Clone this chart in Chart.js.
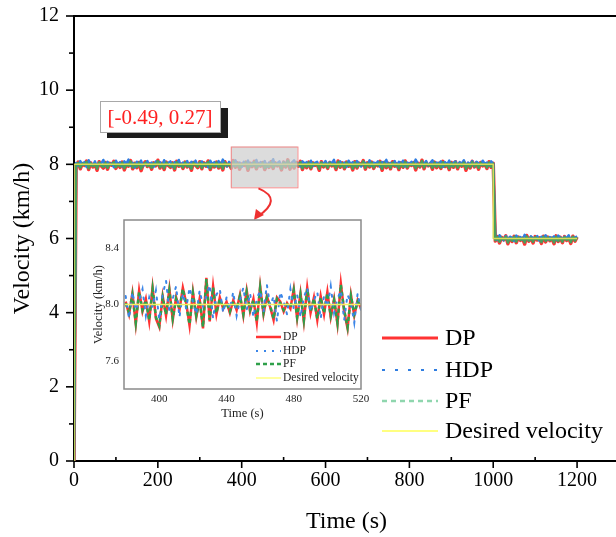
<!DOCTYPE html>
<html><head><meta charset="utf-8">
<script src="https://cdn.jsdelivr.net/npm/chart.js@4/dist/chart.umd.min.js"></script>
<style>
html,body{margin:0;padding:0;background:#fff;overflow:hidden}
#wrap{position:relative;width:616px;height:537px;overflow:hidden;background:#fff}
#main{position:absolute;left:0;top:0}
#inset{position:absolute;left:80px;top:200px}
</style></head><body>
<div id="wrap"><canvas id="main" width="630" height="537"></canvas><canvas id="inset" width="290" height="225"></canvas></div>
<script>
// ---------- main chart data (sampled every 5 s, 0..1200 s) ----------
const mainStep = 5;
const dpMain = [0,
7.95,8.06,7.88,8.02,7.97,8.09,7.86,8.04,7.93,8.01,7.84,8.07,7.96,7.90,8.05,7.87,8.03,7.98,8.08,7.89,
8.02,7.92,8.06,7.85,8.00,7.95,8.10,7.88,8.03,7.91,8.05,7.83,7.99,8.07,7.94,8.02,7.87,8.04,7.96,8.11,
7.90,8.03,7.86,8.06,7.97,7.92,8.04,7.85,8.08,7.95,8.01,7.89,8.06,7.93,8.02,7.84,8.05,7.98,7.91,8.07,
7.88,8.04,7.95,8.09,7.86,8.01,7.93,8.06,7.90,8.03,7.85,8.07,7.96,8.02,7.89,8.10,7.92,8.04,7.87,8.01,
7.97,8.06,7.84,8.03,7.94,8.08,7.88,8.02,7.95,8.05,7.86,8.00,7.92,8.07,7.89,8.04,7.96,8.01,7.85,8.06,
7.93,8.12,7.87,8.03,7.90,8.05,7.95,8.08,7.86,8.02,7.91,8.06,7.88,8.04,7.97,8.01,7.84,8.07,7.93,8.03,
7.89,8.05,7.96,8.02,7.86,8.09,7.92,8.04,7.88,8.06,7.95,8.01,7.85,8.07,7.90,8.03,7.97,8.10,7.87,8.04,
7.93,8.06,7.89,8.02,7.96,8.08,7.84,8.05,7.91,8.03,7.88,8.07,7.95,8.01,7.86,8.04,7.92,8.09,7.90,8.02,
7.97,8.05,7.85,8.03,7.93,8.11,7.88,8.04,7.96,8.02,7.87,8.06,7.91,8.03,7.89,8.08,7.94,8.01,7.86,8.05,
7.92,8.07,7.88,8.03,7.95,8.06,7.84,8.02,7.90,8.08,7.93,8.04,7.87,8.05,7.96,8.01,7.89,8.07,7.92,8.03,
5.93,6.05,5.88,6.03,5.96,6.07,5.86,6.02,5.92,6.06,5.89,6.04,5.95,6.01,5.85,6.08,5.93,6.03,5.88,6.05,
5.96,6.02,5.87,6.06,5.91,6.04,5.94,6.01,5.86,6.07,5.92,6.03,5.89,6.05,5.95,6.02,5.87,6.06,5.93,6.04];
const hdpMain = [0,
8.04,7.96,8.09,7.99,8.06,7.93,8.11,8.01,7.97,8.08,7.94,8.05,8.02,8.12,7.95,8.07,7.98,8.03,7.92,8.10,
7.99,8.06,7.94,8.08,8.02,8.13,7.96,8.04,7.91,8.07,8.00,8.10,7.95,8.03,8.09,7.97,8.05,7.93,8.08,8.01,
8.06,7.95,8.11,7.99,8.04,8.08,7.93,8.06,8.01,8.12,7.96,8.05,7.98,8.09,7.94,8.07,8.02,8.10,7.97,8.04,
8.08,7.96,8.03,7.92,8.10,8.00,8.06,7.95,8.09,7.98,8.13,8.02,7.94,8.07,8.01,7.97,8.11,7.99,8.05,7.93,
8.07,8.01,8.10,7.95,8.04,7.98,8.12,7.96,8.06,8.00,8.09,7.93,8.05,8.02,8.14,7.97,8.03,8.08,7.94,8.06,
8.00,8.09,7.96,8.05,8.11,7.99,8.03,7.94,8.08,8.02,8.06,7.97,8.10,7.95,8.04,8.07,7.92,8.05,8.01,8.09,
7.98,8.06,8.03,8.12,7.95,8.04,8.08,7.97,8.05,7.93,8.10,8.01,8.06,7.96,8.09,8.02,7.94,8.07,8.03,7.99,
8.11,7.96,8.05,8.01,8.08,7.93,8.06,8.03,8.12,7.97,8.04,7.99,8.09,7.95,8.07,8.02,8.10,7.94,8.05,8.00,
8.07,7.98,8.13,8.03,7.95,8.06,8.01,8.09,7.96,8.04,8.11,7.97,8.05,8.02,8.08,7.93,8.06,8.00,8.10,7.96,
8.04,8.08,7.97,8.06,8.02,8.11,7.95,8.05,8.00,8.09,7.94,8.07,8.03,7.98,8.10,8.01,8.05,7.96,8.08,8.02,
6.04,5.96,6.09,6.01,5.95,6.07,5.98,6.05,6.02,5.93,6.08,6.00,6.04,5.97,6.10,6.03,5.95,6.06,6.01,5.99,
6.07,5.94,6.05,6.02,6.09,5.97,6.04,6.00,6.06,5.96,6.08,6.03,5.98,6.05,6.01,6.09,5.95,6.04,6.02,6.06];
const pfMain = [0,
7.97,8.04,7.91,8.02,7.98,8.07,7.89,8.03,7.95,8.01,7.88,8.05,7.97,7.93,8.04,7.90,8.02,7.99,8.06,7.92,
8.01,7.94,8.05,7.89,8.00,7.96,8.08,7.91,8.02,7.93,8.04,7.88,7.99,8.05,7.95,8.01,7.90,8.03,7.97,8.09,
7.92,8.02,7.89,8.05,7.98,7.94,8.03,7.88,8.06,7.96,8.00,7.91,8.05,7.94,8.01,7.88,8.04,7.98,7.93,8.05,
7.90,8.03,7.96,8.07,7.89,8.01,7.94,8.05,7.92,8.02,7.88,8.05,7.97,8.01,7.91,8.08,7.94,8.03,7.90,8.01,
7.98,8.05,7.88,8.02,7.95,8.06,7.90,8.01,7.96,8.04,7.89,8.00,7.93,8.05,7.91,8.03,7.97,8.01,7.88,8.05,
7.94,8.10,7.90,8.02,7.92,8.04,7.96,8.06,7.89,8.01,7.93,8.05,7.90,8.03,7.98,8.01,7.88,8.05,7.94,8.02,
7.91,8.04,7.97,8.01,7.89,8.07,7.93,8.03,7.90,8.05,7.96,8.01,7.88,8.05,7.92,8.02,7.98,8.08,7.90,8.03,
7.94,8.05,7.91,8.01,7.97,8.06,7.88,8.04,7.93,8.02,7.90,8.05,7.96,8.01,7.89,8.03,7.93,8.07,7.92,8.01,
7.98,8.04,7.89,8.02,7.94,8.09,7.91,8.03,7.97,8.01,7.90,8.05,7.93,8.02,7.91,8.06,7.95,8.01,7.89,8.04,
7.93,8.05,7.91,8.02,7.96,8.05,7.88,8.01,7.92,8.06,7.94,8.03,7.90,8.04,7.97,8.01,7.91,8.05,7.93,8.02,
5.95,6.04,5.91,6.02,5.97,6.05,5.89,6.01,5.94,6.05,5.91,6.03,5.96,6.01,5.89,6.06,5.94,6.02,5.91,6.04,
5.97,6.01,5.90,6.05,5.93,6.03,5.95,6.01,5.89,6.05,5.93,6.02,5.91,6.04,5.96,6.01,5.90,6.05,5.94,6.03];
const desiredT = [0, 0, 1000, 1000, 1200];
const desiredV = [0, 8, 8, 6, 6];

// ---------- inset data (380..520 s, every 2 s) ----------
const insetStart = 380, insetStep = 2;
const dpInset = [8.02,7.93,8.08,7.86,8.10,7.95,8.04,7.88,8.12,7.90,
7.84,8.06,7.92,8.11,7.89,8.05,7.96,8.12,8.01,7.85,
8.09,7.91,8.04,7.83,8.19,7.88,8.13,7.93,8.05,7.97,
8.02,7.94,8.03,7.96,8.07,7.92,8.10,7.95,8.04,7.87,
8.13,7.93,8.06,7.98,7.89,8.05,8.02,7.95,8.01,7.97,
8.11,7.90,8.08,7.88,8.12,7.94,8.05,7.89,8.06,7.93,
8.09,7.91,8.04,7.86,8.15,7.95,7.83,8.07,7.92,8.03,7.97];
const pfInset = [8.01,7.94,8.07,7.87,8.09,7.96,8.03,7.89,8.11,7.91,
7.85,8.05,7.93,8.10,7.90,8.04,7.97,8.11,8.00,7.86,
8.08,7.92,8.03,7.84,8.18,7.89,8.12,7.94,8.04,7.98,
8.01,7.95,8.02,7.97,8.06,7.93,8.09,7.96,8.03,7.88,
8.12,7.94,8.05,7.99,7.90,8.04,8.01,7.96,8.00,7.98,
8.10,7.91,8.07,7.89,8.11,7.95,8.04,7.90,8.05,7.94,
8.08,7.92,8.03,7.87,8.14,7.96,7.84,8.06,7.93,8.02,7.98];
const hdpInset = [8.06,7.90,8.09,7.96,8.03,8.11,7.92,8.05,7.98,8.10,
7.89,8.07,8.17,7.95,8.04,8.13,7.91,8.08,7.97,8.12,
8.02,7.93,8.10,7.99,8.06,8.14,7.90,8.07,8.11,7.94,
8.05,7.97,8.09,7.92,8.03,8.12,7.96,8.08,7.91,8.04,
8.10,7.95,8.14,7.99,8.06,7.88,8.09,8.02,7.93,8.11,
7.97,8.07,7.91,8.05,8.12,7.95,8.03,8.09,7.90,8.06,
7.98,8.13,7.94,8.04,8.10,7.89,8.07,8.01,7.87,8.08,7.96];
const desiredInsetT = [379, 520];
const desiredInsetV = [8, 8];

// ---------- ticks, labels ----------
const xTicks = [0, 200, 400, 600, 800, 1000, 1200];
const xMinor = [100, 300, 500, 700, 900, 1100, 1300];
const yTicks = [0, 2, 4, 6, 8, 10, 12];
const yMinor = [1, 3, 5, 7, 9, 11];
const insetXTicks = [400, 440, 480, 520];
const insetYTicks = [7.6, 8.0, 8.4];
const seriesNames = ['DP', 'HDP', 'PF', 'Desired velocity'];
const zoomBoxT = [374, 533];
const zoomBoxV = [7.38, 8.48];
const annotText = '[-0.49, 0.27]';

const SERIF = "'Liberation Serif','Times New Roman',serif";
Chart.defaults.font.family = SERIF;
Chart.defaults.color = '#000';

function seq(start, step, n){ const a=[]; for(let i=0;i<n;i++) a.push(start+i*step); return a; }
function pairs(xs, ys){ return ys.map((v,i)=>({x:xs[i], y:v})); }
const tMain = seq(0, mainStep, dpMain.length);
const tInset = seq(insetStart, insetStep, dpInset.length);

function line(ctx,x0,y0,x1,y1){ ctx.beginPath(); ctx.moveTo(x0,y0); ctx.lineTo(x1,y1); ctx.stroke(); }

const mainDecor = {
  id:'mainDecor',
  afterDatasetsDraw(chart){
    const {ctx, scales:{x,y}} = chart;
    ctx.save();
    const x0=x.getPixelForValue(zoomBoxT[0]), x1=x.getPixelForValue(zoomBoxT[1]);
    const y0=y.getPixelForValue(zoomBoxV[1]), y1=y.getPixelForValue(zoomBoxV[0]);
    ctx.fillStyle='rgba(205,205,205,0.7)';
    ctx.fillRect(x0,y0,x1-x0,y1-y0);
    ctx.strokeStyle='rgba(245,120,120,0.85)'; ctx.lineWidth=1;
    ctx.strokeRect(x0+0.5,y0+0.5,x1-x0,y1-y0);
    // arrow
    const sx=x.getPixelForValue(440), sy=y1+1, ex=254, ey=220, cx=284, cy=199;
    ctx.strokeStyle='#ee3030'; ctx.fillStyle='#ee3030'; ctx.lineWidth=2;
    ctx.beginPath(); ctx.moveTo(sx,sy); ctx.quadraticCurveTo(cx,cy,ex+3,ey-3); ctx.stroke();
    const ang=Math.atan2(ey-cy+6, ex-cx+10);
    ctx.beginPath(); ctx.moveTo(ex,ey);
    ctx.lineTo(ex-10*Math.cos(ang)+5*Math.sin(ang), ey-10*Math.sin(ang)-5*Math.cos(ang));
    ctx.lineTo(ex-10*Math.cos(ang)-5*Math.sin(ang), ey-10*Math.sin(ang)+5*Math.cos(ang));
    ctx.closePath(); ctx.fill();
    ctx.restore();
  },
  afterDraw(chart){
    const {ctx, chartArea:a, scales:{x,y}} = chart;
    ctx.save();
    ctx.strokeStyle='#000'; ctx.lineWidth=2;
    line(ctx, a.left-1, a.top, a.right+1, a.top);
    line(ctx, a.right, a.top, a.right, a.bottom);
    ctx.lineWidth=1.6;
    xTicks.forEach(v=>{const p=x.getPixelForValue(v); line(ctx,p,a.bottom,p,a.bottom+7);});
    xMinor.forEach(v=>{const p=x.getPixelForValue(v); line(ctx,p,a.bottom,p,a.bottom-4);});
    yTicks.forEach(v=>{const p=y.getPixelForValue(v); line(ctx,a.left,p,a.left-8,p);});
    yMinor.forEach(v=>{const p=y.getPixelForValue(v); line(ctx,a.left,p,a.left-5,p);});
    // annotation box
    ctx.fillStyle='#1c1c1c'; ctx.fillRect(107,108,121,30);
    ctx.fillStyle='#fff'; ctx.fillRect(100,101,120,31);
    ctx.strokeStyle='#a8a8a8'; ctx.lineWidth=1; ctx.strokeRect(100.5,101.5,120,31);
    ctx.fillStyle='#ff2020'; ctx.font='21px '+SERIF; ctx.textAlign='center'; ctx.textBaseline='middle';
    ctx.fillText(annotText, 160, 118);
    // legend
    const items=[
      {c:'#ff3333', w:3, d:[]},
      {c:'#2f7de1', w:2, d:[3,10]},
      {c:'#8fd6ae', w:2.5, d:[5,4]},
      {c:'#ffff80', w:2, d:[]}];
    const ly=[338,370,401,431];
    ctx.textAlign='left'; ctx.font='24px '+SERIF; ctx.fillStyle='#000';
    items.forEach((it,i)=>{
      ctx.strokeStyle=it.c; ctx.lineWidth=it.w; ctx.setLineDash(it.d);
      line(ctx,382,ly[i],438,ly[i]);
      ctx.setLineDash([]);
      ctx.fillText(seriesNames[i],445,ly[i]+1);
    });
    ctx.restore();
  }
};

new Chart(document.getElementById('main'), {
  type:'line',
  data:{datasets:[
    {label:seriesNames[3], data:pairs(desiredT,desiredV), borderColor:'#d8dc58', borderWidth:1.5, order:0},
    {label:seriesNames[2], data:pairs(tMain,pfMain), borderColor:'#4a9e5c', borderWidth:2.4, order:1},
    {label:seriesNames[1], data:pairs(tMain,hdpMain), borderColor:'#2f7de1', borderWidth:2.4, order:2},
    {label:seriesNames[0], data:pairs(tMain,dpMain), borderColor:'#ff3333', borderWidth:3.5, order:3}
  ]},
  options:{
    responsive:false, animation:false, devicePixelRatio:1,
    layout:{padding:{top:16,right:11,left:0,bottom:0}},
    elements:{point:{radius:0}, line:{tension:0, borderJoinStyle:'round'}},
    plugins:{legend:{display:false}, tooltip:{enabled:false}},
    scales:{
      x:{type:'linear', min:0, max:1300,
        afterBuildTicks:s=>{s.ticks=xTicks.map(v=>({value:v}));},
        afterFit:s=>{s.height=76; s.paddingLeft=0; s.paddingRight=0;},
        grid:{display:false, drawTicks:false}, border:{color:'#000', width:2},
        ticks:{font:{size:20}, color:'#000', padding:8, maxRotation:0, autoSkip:false, callback:v=>String(v)},
        title:{display:true, text:'Time (s)', font:{size:24}, color:'#000', padding:{top:0,bottom:1}}},
      y:{type:'linear', min:0, max:12,
        afterBuildTicks:s=>{s.ticks=yTicks.map(v=>({value:v}));},
        afterFit:s=>{s.width=74; s.paddingTop=0; s.paddingBottom=0;},
        grid:{display:false, drawTicks:false}, border:{color:'#000', width:2},
        ticks:{font:{size:20}, color:'#000', padding:15, callback:v=>String(v)},
        title:{display:true, text:'Velocity (km/h)', font:{size:24}, color:'#000', padding:{top:8,bottom:0}}}
    }
  },
  plugins:[mainDecor]
});

const insetDecor = {
  id:'insetDecor',
  afterDraw(chart){
    const {ctx, chartArea:a} = chart;
    ctx.save();
    ctx.strokeStyle='#8a8a8a'; ctx.lineWidth=1.5;
    ctx.strokeRect(a.left, a.top, a.right-a.left, a.bottom-a.top);
    const items=[
      {c:'#ff3333', w:2.5, d:[]},
      {c:'#3b86e8', w:2, d:[2,6]},
      {c:'#2ea04a', w:2.5, d:[4,3]},
      {c:'#ffff80', w:1.5, d:[]}];
    const ly=[137,151,164,178];
    ctx.font='11.5px '+SERIF; ctx.fillStyle='#222'; ctx.textAlign='left'; ctx.textBaseline='middle';
    items.forEach((it,i)=>{
      ctx.strokeStyle=it.c; ctx.lineWidth=it.w; ctx.setLineDash(it.d);
      line(ctx,176,ly[i],201,ly[i]);
      ctx.setLineDash([]);
      ctx.fillText(seriesNames[i],203,ly[i]);
    });
    ctx.restore();
  }
};

new Chart(document.getElementById('inset'), {
  type:'line',
  data:{datasets:[
    {label:seriesNames[3], data:pairs(desiredInsetT,desiredInsetV), borderColor:'#f2f060', borderWidth:1.5, order:0},
    {label:seriesNames[1], data:pairs(tInset,hdpInset), borderColor:'#3b86e8', borderWidth:2, borderDash:[2,7], borderCapStyle:'round', order:1},
    {label:seriesNames[2], data:pairs(tInset,pfInset), borderColor:'#2ea04a', borderWidth:2.5, borderDash:[4,3], order:2},
    {label:seriesNames[0], data:pairs(tInset,dpInset), borderColor:'#ff3333', borderWidth:2.5, order:3}
  ]},
  options:{
    responsive:false, animation:false, devicePixelRatio:1,
    layout:{padding:{top:20,right:9,left:0,bottom:0}},
    elements:{point:{radius:0}, line:{tension:0}},
    plugins:{legend:{display:false}, tooltip:{enabled:false}},
    scales:{
      x:{type:'linear', min:379, max:520,
        afterBuildTicks:s=>{s.ticks=insetXTicks.map(v=>({value:v}));},
        afterFit:s=>{s.height=36; s.paddingLeft=0; s.paddingRight=0;},
        grid:{display:false, drawTicks:false}, border:{display:false},
        ticks:{font:{size:11}, color:'#222', padding:4, maxRotation:0, autoSkip:false, callback:v=>String(v)},
        title:{display:true, text:'Time (s)', font:{size:12.5}, color:'#222', padding:{top:0,bottom:4}}},
      y:{type:'linear', min:7.4, max:8.6,
        afterBuildTicks:s=>{s.ticks=insetYTicks.map(v=>({value:v}));},
        afterFit:s=>{s.width=44; s.paddingTop=0; s.paddingBottom=0;},
        grid:{display:false, drawTicks:false}, border:{display:false},
        ticks:{font:{size:11}, color:'#222', padding:5, callback:v=>Number(v).toFixed(1)},
        title:{display:true, text:'Velocity (km/h)', font:{size:12.5}, color:'#222', padding:{top:11,bottom:0}}}
    }
  },
  plugins:[insetDecor]
});
</script>
</body></html>
